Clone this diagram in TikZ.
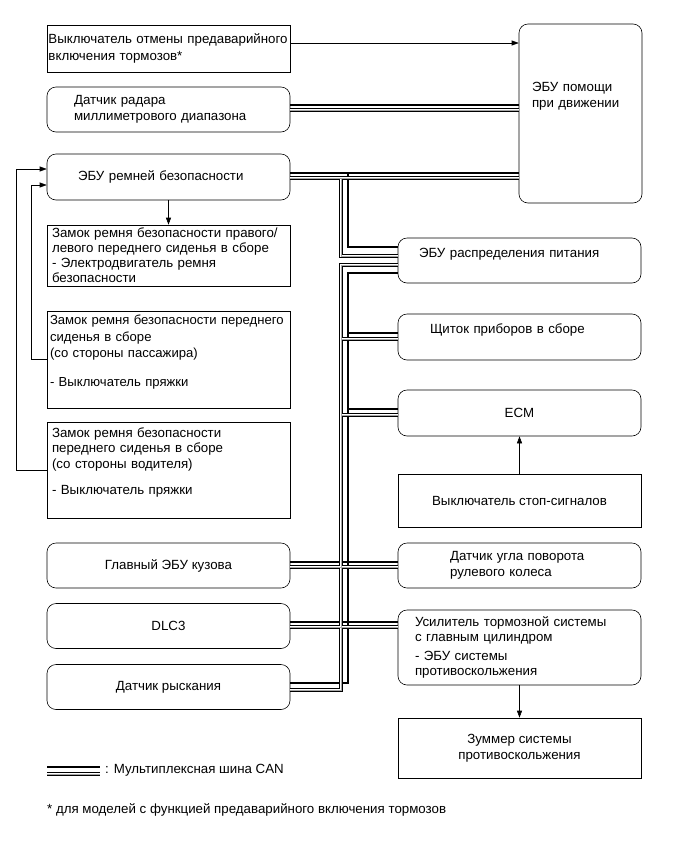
\documentclass[tikz,border=0pt]{standalone}
\usepackage{fontspec}
\setmainfont{Liberation Sans}
\usepackage{tikz}
\usetikzlibrary{arrows.meta,positioning,calc}

\tikzset{
  blk/.style={draw,line width=0.6pt,minimum width=243pt,align=left,inner ysep=1pt},
  rblk/.style={blk,rounded corners=9pt},
  link/.style={line width=0.6pt,-{Triangle[length=7pt,width=5pt]}},
  canh/.style={line width=2.2pt},
  canlo/.style={line width=4.6pt,black},
  canli/.style={line width=2.6pt,white},
  canlg/.style={line width=0.7pt,gray!70},
}

\begin{document}
\begin{tikzpicture}[x=1pt,y=-1pt,font=\fontsize{13.3}{16.5}\selectfont,line join=miter]
  \useasboundingbox (0,0) rectangle (691,855);

  % left column
  \node[blk,text width=240pt,inner xsep=1.5pt,minimum height=47pt] (cancel) at (168.5,48.5)
    {Выключатель отмены предаварийного\\включения тормозов*};
  \node[rblk,text width=189pt,inner xsep=27pt,minimum height=45pt] (radar) at (168.5,109.5)
    {Датчик радара\\миллиметрового диапазона};
  \node[rblk,text width=181pt,inner xsep=31pt,minimum height=46pt] (seatecu) at (168.5,177)
    {ЭБУ ремней безопасности};
  \node[blk,text width=233pt,inner xsep=5pt,minimum height=61pt,
        font=\fontsize{13.3}{15}\selectfont] (pretfront) at (168.5,255.5)
    {Замок ремня безопасности правого/\\левого переднего сиденья в сборе\\- Электродвигатель ремня\\безопасности};
  \node[blk,text width=237pt,inner xsep=3pt,minimum height=97pt,
        font=\fontsize{13.1}{16.5}\selectfont] (buckp) at (168.5,359.5)
    {Замок ремня безопасности переднего\\сиденья в сборе\\(со стороны пассажира)\\[12pt]- Выключатель пряжки\\[-4pt]\strut};
  \node[blk,text width=233pt,inner xsep=5pt,minimum height=96pt,
        font=\fontsize{13.3}{15.5}\selectfont] (buckd) at (168.5,470)
    {Замок ремня безопасности\\переднего сиденья в сборе\\(со стороны водителя)\\[11pt]- Выключатель пряжки\\[-2pt]\strut};
  \foreach \nm/\y/\txt in {mainbody/565.5/Главный ЭБУ кузова, dlc/626/DLC3, yaw/687/Датчик рыскания}
    \node[rblk,align=center,minimum height=45pt] (\nm) at (168.5,\y) {\txt};

  % right column
  \node[rblk,text width=97pt,inner xsep=13pt,minimum width=123pt,minimum height=179pt] (dsecu) at (580.5,113.5)
    {ЭБУ помощи\\при движении\\[16pt]\strut};
  \node[rblk,text width=201pt,inner xsep=21pt,minimum height=45pt] (pwr) at (519.5,260.5)
    {ЭБУ распределения питания\\[-6pt]\strut};
  \node[rblk,text width=179pt,inner xsep=32pt,minimum height=46pt] (meter) at (519.5,337)
    {Щиток приборов в сборе\\[-4pt]\strut};
  \node[rblk,align=center,minimum height=46pt] (ecm) at (519.5,413) {ECM};
  \node[blk,align=center,minimum height=53pt] (stop) at (519.5,500.5) {Выключатель стоп-сигналов};
  \node[rblk,text width=139pt,inner xsep=52pt,minimum height=45pt] (steer) at (519.5,565.5)
    {Датчик угла поворота\\рулевого колеса};
  \node[rblk,text width=209pt,inner xsep=17pt,minimum height=75pt,
        font=\fontsize{13.3}{15.5}\selectfont] (brake) at (519.5,647.5)
    {Усилитель тормозной системы\\с главным цилиндром\\[3pt]- ЭБУ системы\\противоскольжения};
  \node[blk,align=center,minimum height=60pt] (buzzer) at (519.5,748)
    {Зуммер системы\\противоскольжения};

  % signal lines
  \draw[link] ([yshift=5.5pt]cancel.east) -- ([yshift=5.5pt]cancel.east -| dsecu.west);
  \draw[link] (seatecu.south) -- (pretfront.north);
  \draw[link] (buckp.west) -- ++(-15,0) |- ([yshift=-8pt]seatecu.west);
  \draw[link] (buckd.west) -- ++(-30,0) |- ([yshift=8pt]seatecu.west);
  \draw[link] (stop.north) -- (ecm.south);
  \draw[link] (brake.south) -- (buzzer.north);

  % CAN bus, thick wire
  \draw[canh]
    (radar.east |- 0,105) -- (dsecu.west |- 0,105)
    (seatecu.east |- 0,173) -- (dsecu.west |- 0,173)
    (348,173) |- (pwr.west |- 0,247)
    (pwr.west |- 0,273) -| (348,683) -- (yaw.east |- 0,683)
    (348,333) -- (meter.west |- 0,333)
    (348,409) -- (ecm.west |- 0,409)
    (mainbody.east |- 0,562) -- (steer.west |- 0,562)
    (dlc.east |- 0,622) -- (brake.west |- 0,622);
  % CAN bus, double wire
  \foreach \pass in {canlo,canli,canlg}
    \draw[\pass]
      (radar.east |- 0,110) -- (dsecu.west |- 0,110)
      (seatecu.east |- 0,178) -- (dsecu.west |- 0,178)
      (341,178) |- (pwr.west |- 0,256)
      (pwr.west |- 0,265) -| (341,690) -- (yaw.east |- 0,690)
      (341,339) -- (meter.west |- 0,339)
      (341,415) -- (ecm.west |- 0,415)
      (mainbody.east |- 0,567) -- (steer.west |- 0,567)
      (dlc.east |- 0,627) -- (brake.west |- 0,627);

  % legend
  \coordinate (lgA) at (47,767);
  \coordinate (lgB) at (100,767);
  \draw[canh] (lgA) -- (lgB);
  \foreach \pass in {canlo,canli,canlg}
    \draw[\pass] ([yshift=-7pt]lgA) -- ([yshift=-7pt]lgB);
  \node[anchor=west,inner sep=0pt] (lgtext) at (105,770) {: Мультиплексная шина CAN};
  \node[anchor=west,inner sep=0pt] (note) at (47,810)
    {* для моделей с функцией предаварийного включения тормозов};
\end{tikzpicture}
\end{document}
